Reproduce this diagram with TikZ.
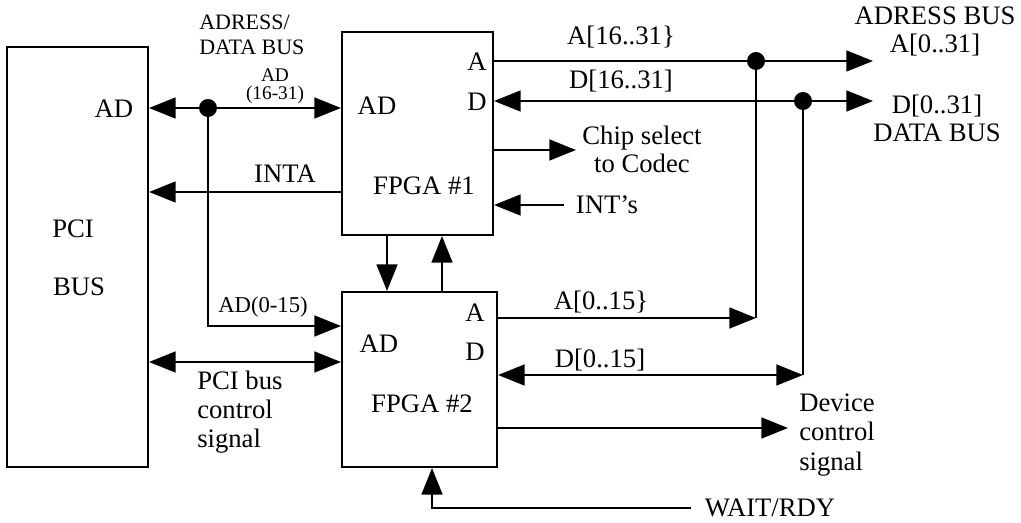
\documentclass[tikz,border=0pt]{standalone}
\usepackage{fontspec}
\setmainfont{Liberation Serif}
\usetikzlibrary{arrows.meta,fit}
\begin{document}
\begin{tikzpicture}[x=0.75pt,y=-0.75pt,
  box/.style={draw,line width=1.5pt,inner sep=0pt},
  wire/.style={line width=2.1pt},
  >={Triangle[length=20pt,width=15.5pt]},
  dot/.style={circle,fill,inner sep=0pt,minimum size=13.5pt},
  lbl/.style={inner sep=0pt,font=\fontsize{20}{22}\selectfont},
  mlbl/.style={inner sep=0pt,align=left,font=\fontsize{20}{22}\selectfont},
  clbl/.style={inner sep=0pt,align=center,font=\fontsize{20}{21}\selectfont},
  slbl/.style={inner sep=0pt,align=left,font=\fontsize{16.5}{19}\selectfont},
  tlbl/.style={inner sep=0pt,align=center,font=\fontsize{14.5}{13.5}\selectfont},
  albl/.style={inner sep=0pt,font=\fontsize{17}{19}\selectfont}]
\useasboundingbox (0,0) rectangle (1021,523);

% boxes
\node[box,fit={(7,47)(148,467)}] (pci) {};
\node[box,fit={(342,32)(493,235)}] (f1) {};
\node[box,fit={(342,292)(497,467)}] (f2) {};

% helper coordinates
\coordinate (yinta) at (0,192);
\coordinate (yad2) at (0,326);
\coordinate (ypcc) at (0,362);
\coordinate (ya16) at (0,61);
\coordinate (yd16) at (0,101);
\coordinate (ycs) at (0,150);
\coordinate (abus) at (873,61);
\coordinate (dbus) at (873,101);
\coordinate (a0) at (756,318);
\coordinate (d0) at (803,375);
\coordinate (csend) at (576,150);
\coordinate (dcs) at (788,428);
\coordinate (xdn) at (387,0);
\coordinate (xup) at (442,0);
\coordinate (xw) at (432,0);

% junction dots
\node[dot] (j1) at (208,108) {};
\node[dot] (j2) at (756,61) {};
\node[dot] (j3) at (803,101) {};

% texts in boxes
\node[lbl] (pciad) at (114,109) {AD};
\node[lbl] (pcit) at (73,229) {PCI};
\node[lbl] (bust) at (79,287) {BUS};
\node[lbl] (f1a) at (477,62) {A};
\node[lbl] (f1d) at (477,102) {D};
\node[lbl] (f1ad) at (377,106) {AD};
\node[lbl] (f1n) at (424,186) {FPGA \#1};
\node[lbl] (f2a) at (475,313) {A};
\node[lbl] (f2d) at (475,352) {D};
\node[lbl] (f2ad) at (379,344) {AD};
\node[lbl] (f2n) at (422,404) {FPGA \#2};

% other labels
\node[slbl,anchor=west] (adbus) at (199,35) {ADRESS/\\DATA BUS};
\node[tlbl] (ad16) at (275,86) {AD\\(16-31)};
\node[lbl] (inta) at (285,174) {INTA};
\node[albl] (ad015) at (263,307) {AD(0-15)};
\node[mlbl,anchor=west] (pcictl) at (197,412) {PCI bus\\control\\signal};
\node[lbl] (a16) at (621,37) {A[16..31\}};
\node[lbl] (d16) at (621,81) {D[16..31]};
\node[clbl] (chip) at (642,149) {Chip select\\to Codec};
\node[lbl] (ints) at (607,205) {INT's};
\node[clbl] (abusl) at (935,31) {ADRESS BUS\\A[0..31]};
\node[clbl] (dbusl) at (937,118) {D[0..31]\\DATA BUS};
\node[lbl] (a015) at (601,302) {A[0..15\}};
\node[lbl] (d015) at (600,360) {D[0..15]};
\node[mlbl,anchor=west] (dev) at (799,435) {Device\\control\\signal};
\node[lbl] (wait) at (770,508) {WAIT/RDY};

% connectors
\draw[wire,<->] (pci.east |- j1.center) -- (f1.west |- j1.center);
\draw[wire,->] (j1.center) |- (f2.west |- yad2);
\draw[wire,<-] (pci.east |- yinta) -- (f1.west |- yinta);
\draw[wire,<->] (pci.east |- ypcc) -- (f2.west |- ypcc);
\draw[wire,->] (f1.east |- ya16) -- (abus);
\draw[wire,<->] (f1.east |- yd16) -- (dbus);
\draw[wire,->] (f1.east |- ycs) -- (csend);
\draw[wire,->] ([xshift=-9pt]ints.west) -- (ints.west -| f1.east);
\draw[wire] (j2.center) -- (a0);
\draw[wire] (j3.center) -- (d0);
\draw[wire,->] (f2.east |- a0) -- (a0);
\draw[wire,<->] (f2.east |- d0) -- (d0);
\draw[wire,->] (f2.east |- dcs) -- (dcs);
\draw[wire,->] (f1.south -| xdn) -- (f2.north -| xdn);
\draw[wire,->] (f2.north -| xup) -- (f1.south -| xup);
\draw[wire,->] ([xshift=-10pt]wait.west) -| (f2.south -| xw);
\end{tikzpicture}
\end{document}
